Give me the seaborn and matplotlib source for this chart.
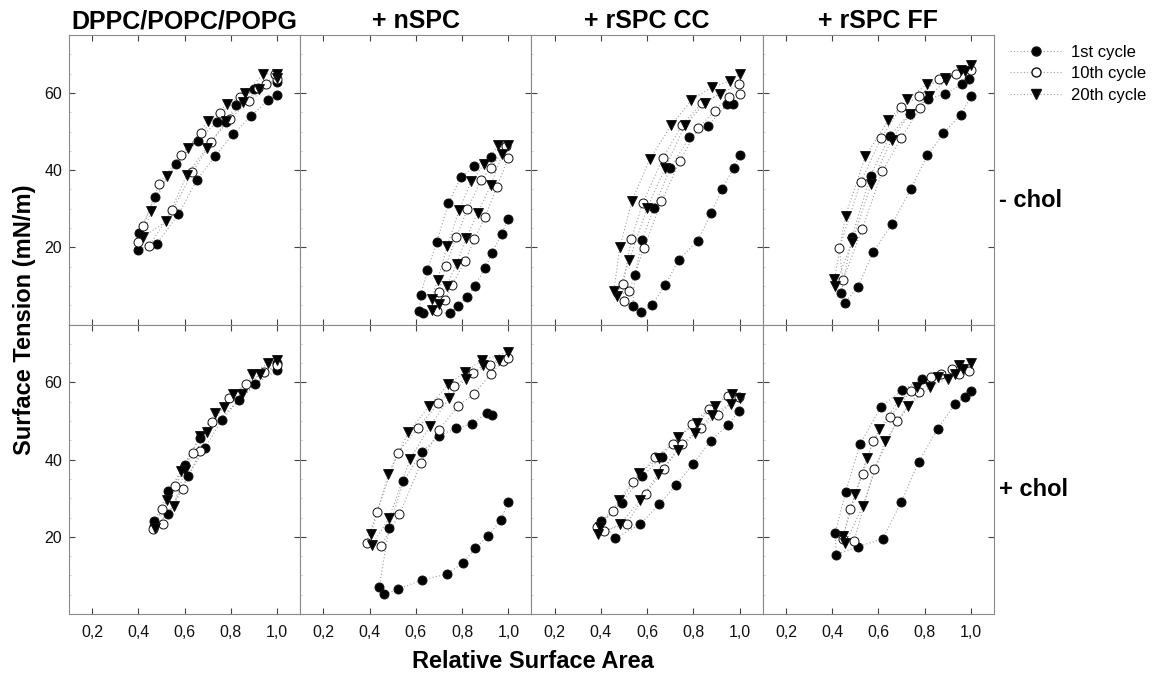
import matplotlib
matplotlib.use("Agg")
import matplotlib.pyplot as plt
import seaborn as sns
import pandas as pd
from matplotlib.lines import Line2D
from matplotlib.ticker import MultipleLocator

panels = ["DPPC/POPC/POPG", "+ nSPC", "+ rSPC CC", "+ rSPC FF"]
conditions = ["- chol", "+ chol"]
cycles = ["1st cycle", "10th cycle", "20th cycle"]
x_ticks = [0.2, 0.4, 0.6, 0.8, 1.0]
x_tick_labels = ["0,2", "0,4", "0,6", "0,8", "1,0"]
y_ticks = [20, 40, 60]

# ---- - chol row ----
dppc_m_1st_x = [1.0, 0.96, 0.889, 0.809, 0.732, 0.653, 0.573, 0.479, 0.397, 0.404, 0.472, 0.563, 0.656, 0.740, 0.779, 0.822, 0.902, 1.0]
dppc_m_1st_y = [59.4, 58.1, 54.1, 49.3, 43.6, 37.5, 28.5, 20.9, 19.4, 23.7, 33.0, 41.7, 47.6, 52.5, 52.5, 56.9, 60.9, 62.8]
dppc_m_10th_x = [1.0, 0.88, 0.795, 0.715, 0.634, 0.547, 0.446, 0.397, 0.421, 0.491, 0.583, 0.670, 0.754, 0.841, 0.916, 0.952, 0.99]
dppc_m_10th_y = [63.7, 57.8, 53.3, 47.3, 39.4, 29.6, 20.3, 21.3, 25.6, 36.5, 43.9, 49.5, 54.8, 58.9, 61.3, 62.3, 65.0]
dppc_m_20th_x = [1.0, 0.923, 0.853, 0.779, 0.696, 0.609, 0.520, 0.421, 0.453, 0.525, 0.614, 0.700, 0.783, 0.863, 0.938, 1.0]
dppc_m_20th_y = [63.9, 60.9, 57.6, 52.7, 45.7, 38.7, 26.7, 22.7, 29.3, 38.4, 45.6, 52.7, 57.0, 60.0, 64.8, 65.0]

nspc_m_1st_x = [1.0, 0.971, 0.928, 0.899, 0.856, 0.820, 0.784, 0.748, 0.630, 0.615, 0.621, 0.650, 0.690, 0.741, 0.794, 0.853, 0.925]
nspc_m_1st_y = [27.4, 23.5, 18.4, 14.6, 10.1, 7.0, 4.9, 3.0, 3.0, 3.4, 7.7, 14.0, 21.3, 31.5, 38.1, 41.0, 43.4]
nspc_m_10th_x = [1.0, 0.95, 0.899, 0.853, 0.813, 0.755, 0.726, 0.690, 0.700, 0.729, 0.774, 0.823, 0.882, 0.925, 0.99]
nspc_m_10th_y = [43.2, 35.6, 27.8, 22.2, 16.4, 10.2, 6.3, 3.4, 8.5, 15.1, 22.6, 29.8, 37.5, 40.6, 46.2]
nspc_m_20th_x = [0.974, 0.925, 0.867, 0.817, 0.777, 0.733, 0.700, 0.671, 0.668, 0.694, 0.736, 0.787, 0.839, 0.896, 0.957, 1.0]
nspc_m_20th_y = [44.3, 36.2, 28.9, 22.4, 15.7, 10.1, 5.4, 3.8, 6.7, 11.6, 20.4, 29.6, 37.1, 41.6, 46.4, 46.4]

cc_m_1st_x = [1.0, 0.975, 0.925, 0.877, 0.819, 0.737, 0.679, 0.622, 0.575, 0.538, 0.547, 0.578, 0.629, 0.701, 0.783, 0.864, 0.944, 0.971]
cc_m_1st_y = [44.0, 40.6, 35.2, 28.9, 21.7, 16.8, 10.3, 5.1, 3.2, 4.9, 12.7, 21.8, 30.2, 40.6, 48.5, 51.5, 57.0, 57.0]
cc_m_10th_x = [1.0, 0.954, 0.893, 0.821, 0.741, 0.662, 0.586, 0.523, 0.499, 0.496, 0.532, 0.581, 0.669, 0.752, 0.838, 0.997]
cc_m_10th_y = [59.7, 59.0, 55.4, 50.9, 42.3, 31.9, 19.8, 8.8, 6.2, 10.5, 22.2, 31.5, 43.2, 51.8, 57.4, 62.2]
cc_m_20th_x = [0.915, 0.850, 0.763, 0.679, 0.600, 0.523, 0.470, 0.456, 0.482, 0.535, 0.612, 0.704, 0.791, 0.882, 0.957, 1.0]
cc_m_20th_y = [59.8, 57.4, 51.6, 40.6, 30.2, 16.8, 7.3, 8.6, 20.1, 32.1, 42.9, 51.6, 58.1, 61.6, 63.0, 64.8]

ff_m_1st_x = [1.0, 0.957, 0.881, 0.812, 0.740, 0.660, 0.578, 0.511, 0.455, 0.439, 0.486, 0.566, 0.650, 0.735, 0.816, 0.889, 0.961, 0.990]
ff_m_1st_y = [59.1, 54.4, 49.5, 43.8, 35.1, 26.1, 18.8, 9.7, 5.6, 8.2, 22.7, 38.6, 48.9, 54.6, 58.5, 59.7, 62.2, 63.7]
ff_m_10th_x = [0.780, 0.699, 0.617, 0.530, 0.446, 0.431, 0.523, 0.612, 0.699, 0.776, 0.860, 0.935, 1.0]
ff_m_10th_y = [56.1, 48.3, 39.7, 24.7, 11.4, 19.8, 36.8, 48.3, 56.4, 59.1, 63.7, 65.0, 65.9]
ff_m_20th_x = [0.975, 0.894, 0.819, 0.737, 0.657, 0.569, 0.486, 0.414, 0.410, 0.458, 0.544, 0.643, 0.725, 0.809, 0.887, 0.957, 1.0]
ff_m_20th_y = [65.6, 63.3, 59.1, 54.6, 47.9, 36.4, 21.3, 10.1, 11.7, 28.2, 43.6, 52.9, 58.3, 62.2, 63.9, 65.9, 67.3]

# ---- + chol row ----
dppc_p_1st_x = [1.0, 0.906, 0.834, 0.761, 0.689, 0.614, 0.530, 0.469, 0.469, 0.530, 0.602, 0.667, 1.0]
dppc_p_1st_y = [63.2, 59.6, 55.4, 50.3, 43.1, 35.8, 25.9, 22.8, 24.0, 31.8, 38.7, 45.7, 64.9]
dppc_p_10th_x = [1.0, 0.945, 0.867, 0.790, 0.718, 0.667, 0.592, 0.505, 0.465, 0.501, 0.559, 0.635]
dppc_p_10th_y = [64.5, 62.8, 59.7, 55.9, 49.7, 42.1, 32.5, 23.2, 22.1, 27.2, 33.1, 41.7]
dppc_p_20th_x = [0.959, 0.892, 0.848, 0.769, 0.696, 0.602, 0.552, 0.472, 0.523, 0.585, 0.667, 0.732, 0.809, 0.928, 1.0]
dppc_p_20th_y = [64.9, 62.1, 57.0, 53.7, 47.1, 37.4, 27.9, 22.3, 29.6, 37.1, 46.2, 52.0, 56.9, 62.1, 65.8]

nspc_p_1st_x = [1.0, 0.967, 0.911, 0.856, 0.805, 0.733, 0.625, 0.521, 0.464, 0.442, 0.484, 0.546, 0.625, 0.700, 0.774, 0.841, 0.906, 0.931]
nspc_p_1st_y = [29.0, 24.3, 20.2, 17.0, 13.3, 10.3, 8.8, 6.4, 5.1, 7.1, 22.3, 34.4, 41.9, 46.2, 48.1, 49.2, 52.0, 51.6]
nspc_p_10th_x = [0.978, 0.925, 0.852, 0.784, 0.700, 0.622, 0.529, 0.448, 0.387, 0.431, 0.521, 0.611, 0.697, 0.767, 0.849, 0.921, 1.0]
nspc_p_10th_y = [65.6, 62.3, 57.0, 54.0, 47.7, 39.1, 25.8, 17.6, 18.5, 26.4, 41.7, 48.3, 54.6, 59.1, 62.5, 64.5, 66.2]
nspc_p_20th_x = [0.960, 0.892, 0.816, 0.743, 0.661, 0.575, 0.485, 0.409, 0.406, 0.481, 0.568, 0.658, 0.741, 0.813, 0.888, 1.0]
nspc_p_20th_y = [65.8, 64.5, 61.0, 55.9, 48.6, 40.2, 24.9, 17.8, 20.8, 36.3, 47.1, 53.9, 59.5, 62.8, 65.8, 67.9]

cc_p_1st_x = [0.997, 0.950, 0.875, 0.799, 0.724, 0.653, 0.569, 0.462, 0.401, 0.490, 0.579, 0.663]
cc_p_1st_y = [52.6, 49.0, 44.9, 38.9, 33.3, 28.5, 23.2, 19.6, 24.2, 28.8, 35.7, 40.6]
cc_p_10th_x = [0.996, 0.907, 0.832, 0.749, 0.674, 0.594, 0.512, 0.414, 0.382, 0.454, 0.541, 0.634, 0.713, 0.792, 0.868, 0.950]
cc_p_10th_y = [56.3, 51.6, 48.1, 44.0, 37.5, 31.2, 23.4, 21.5, 22.6, 26.6, 34.2, 40.6, 44.1, 49.2, 53.1, 56.6]
cc_p_20th_x = [1.0, 0.961, 0.881, 0.809, 0.732, 0.648, 0.569, 0.483, 0.387, 0.397, 0.479, 0.565, 0.653, 0.734, 0.814, 0.893, 0.967]
cc_p_20th_y = [55.9, 54.4, 51.6, 46.8, 42.5, 36.3, 29.5, 23.2, 20.6, 22.5, 29.5, 36.5, 40.4, 45.8, 49.6, 53.9, 56.9]

ff_p_1st_x = [1.0, 0.973, 0.932, 0.856, 0.774, 0.699, 0.619, 0.511, 0.418, 0.413, 0.459, 0.521, 0.612, 0.702, 0.788]
ff_p_1st_y = [57.8, 56.3, 54.4, 48.0, 39.4, 29.0, 19.5, 17.4, 15.4, 20.9, 31.7, 44.1, 53.7, 58.0, 60.9]
ff_p_10th_x = [0.990, 0.947, 0.870, 0.777, 0.680, 0.582, 0.495, 0.445, 0.478, 0.532, 0.576, 0.651, 0.741, 0.827, 0.918]
ff_p_10th_y = [62.9, 62.3, 62.1, 57.6, 50.0, 37.5, 18.9, 19.5, 27.3, 36.3, 44.9, 51.1, 57.8, 61.5, 63.4]
ff_p_20th_x = [1.0, 0.968, 0.900, 0.824, 0.730, 0.630, 0.532, 0.457, 0.449, 0.500, 0.550, 0.604, 0.684, 0.767, 0.857, 0.932, 0.950]
ff_p_20th_y = [64.9, 63.4, 61.0, 58.9, 53.9, 44.9, 27.9, 18.3, 20.2, 31.2, 40.4, 47.9, 55.0, 58.9, 61.5, 62.1, 64.5]

series = {
    ("- chol", panels[0]): [(dppc_m_1st_x, dppc_m_1st_y), (dppc_m_10th_x, dppc_m_10th_y), (dppc_m_20th_x, dppc_m_20th_y)],
    ("- chol", panels[1]): [(nspc_m_1st_x, nspc_m_1st_y), (nspc_m_10th_x, nspc_m_10th_y), (nspc_m_20th_x, nspc_m_20th_y)],
    ("- chol", panels[2]): [(cc_m_1st_x, cc_m_1st_y), (cc_m_10th_x, cc_m_10th_y), (cc_m_20th_x, cc_m_20th_y)],
    ("- chol", panels[3]): [(ff_m_1st_x, ff_m_1st_y), (ff_m_10th_x, ff_m_10th_y), (ff_m_20th_x, ff_m_20th_y)],
    ("+ chol", panels[0]): [(dppc_p_1st_x, dppc_p_1st_y), (dppc_p_10th_x, dppc_p_10th_y), (dppc_p_20th_x, dppc_p_20th_y)],
    ("+ chol", panels[1]): [(nspc_p_1st_x, nspc_p_1st_y), (nspc_p_10th_x, nspc_p_10th_y), (nspc_p_20th_x, nspc_p_20th_y)],
    ("+ chol", panels[2]): [(cc_p_1st_x, cc_p_1st_y), (cc_p_10th_x, cc_p_10th_y), (cc_p_20th_x, cc_p_20th_y)],
    ("+ chol", panels[3]): [(ff_p_1st_x, ff_p_1st_y), (ff_p_10th_x, ff_p_10th_y), (ff_p_20th_x, ff_p_20th_y)],
}

rows = []
for (cond, panel), lst in series.items():
    for cyc, (xs, ys) in zip(cycles, lst):
        for i, (x, y) in enumerate(zip(xs, ys)):
            rows.append(dict(cond=cond, panel=panel, cycle=cyc, order=i, area=x, tension=y))
df = pd.DataFrame(rows)

sns.set_style("ticks")
plt.rcParams["font.family"] = ["Liberation Sans", "DejaVu Sans"]
plt.rcParams["text.color"] = "black"

styles = {
    "1st cycle": dict(marker="o", face="black", s=42),
    "10th cycle": dict(marker="o", face="white", s=42),
    "20th cycle": dict(marker="v", face="black", s=50),
}
spine_col = "#8a8a8a"
line_col = "#a0a0a0"

fig, axes = plt.subplots(2, 4, figsize=(11.53, 6.79), dpi=100, sharex=True, sharey=True)
fig.subplots_adjust(left=69/1153, right=994/1153, top=1-35/679, bottom=1-614/679, wspace=0, hspace=0)

for r, cond in enumerate(conditions):
    for c, panel in enumerate(panels):
        ax = axes[r, c]
        sub = df[(df.cond == cond) & (df.panel == panel)]
        for cyc in cycles:
            s = sub[sub.cycle == cyc].sort_values("order")
            sns.lineplot(data=s, x="area", y="tension", sort=False, estimator=None, ax=ax,
                         color=line_col, lw=0.8, linestyle=(0, (1, 2)), legend=False, zorder=1)
        for cyc in cycles:
            s = sub[sub.cycle == cyc]
            st = styles[cyc]
            sns.scatterplot(data=s, x="area", y="tension", ax=ax, marker=st["marker"], s=st["s"],
                            color=st["face"], edgecolor="#111111", linewidth=0.7, legend=False, zorder=3)
        ax.set_xlim(0.1, 1.1)
        ax.set_ylim(0, 75)
        ax.set_xticks(x_ticks)
        ax.set_xticklabels(x_tick_labels)
        ax.set_yticks(y_ticks)
        ax.yaxis.set_minor_locator(MultipleLocator(5))
        ax.set_xlabel("")
        ax.set_ylabel("")
        ax.tick_params(which="major", direction="in", top=True, right=True, length=4.5, width=0.8,
                       color="#444444", labelsize=11.5, labelcolor="#111111")
        ax.tick_params(axis="x", pad=8)
        ax.tick_params(axis="y", pad=5)
        ax.tick_params(which="minor", axis="y", direction="in", left=True, right=False, length=1.5,
                       width=0.5, color="#bbbbbb")
        for sp in ax.spines.values():
            sp.set_color(spine_col)
            sp.set_linewidth(0.8)
        if r == 0:
            ax.set_title(panel, fontsize=18, fontweight="bold", pad=5, color="black")
    axes[r, -1].text(1.02, 0.43, cond, transform=axes[r, -1].transAxes, ha="left", va="center",
                     fontsize=17, fontweight="bold", color="black")

fig.text(25/1153, 1-320/679, "Surface Tension (mN/m)", rotation=90, ha="center", va="center",
         fontsize=17, fontweight="bold", color="black")
fig.text(533/1153, 1-662/679, "Relative Surface Area", ha="center", va="center",
         fontsize=17, fontweight="bold", color="black")

handles = [
    Line2D([0], [0], color=line_col, lw=0.8, linestyle=(0, (1, 2)), marker="o", markersize=6.5,
           markerfacecolor="black", markeredgecolor="#111111"),
    Line2D([0], [0], color=line_col, lw=0.8, linestyle=(0, (1, 2)), marker="o", markersize=6.5,
           markerfacecolor="white", markeredgecolor="#111111"),
    Line2D([0], [0], color=line_col, lw=0.8, linestyle=(0, (1, 2)), marker="v", markersize=7,
           markerfacecolor="black", markeredgecolor="#111111"),
]
leg = fig.legend(handles, cycles, loc="upper left", bbox_to_anchor=(1003/1153, 1-38/679), frameon=False,
                 fontsize=12, handlelength=3.2, handletextpad=0.5, labelspacing=0.4, borderaxespad=0)
for t in leg.get_texts():
    t.set_color("black")

fig.savefig("out.png", dpi=100)
